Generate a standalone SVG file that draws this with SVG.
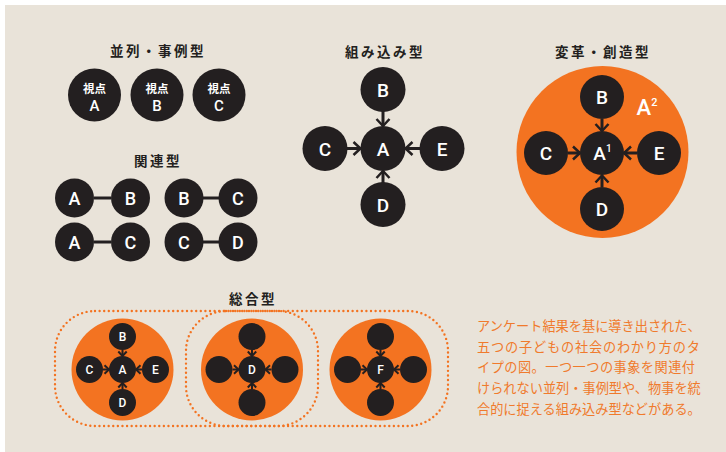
<svg xmlns="http://www.w3.org/2000/svg" width="726" height="452" viewBox="0 0 726 452">
<style>
.bg{fill:#e9e3d9}
.n{fill:#231f20}
.o{fill:#f37321}
.t{font-family:"Noto Sans CJK JP","Noto Sans",sans-serif;font-weight:bold;font-size:13.5px;fill:#231f20;letter-spacing:2.5px;text-anchor:middle}
.l{font-family:Roboto,"Liberation Sans",sans-serif;font-weight:500;fill:#fff;text-anchor:middle}
.k{font-family:"Noto Sans CJK JP",sans-serif;font-weight:bold;font-size:11.5px;fill:#fff;text-anchor:middle}
.c{stroke:#231f20;stroke-width:3;fill:none}
.cs{stroke:#231f20;stroke-width:2;fill:none}
.dot{fill:none;stroke:#f37321;stroke-width:2.4;stroke-dasharray:0 4.6;stroke-linecap:round}
.p{font-family:"Noto Sans CJK JP",sans-serif;font-size:13.2px;fill:#f07a2c}
</style>
<defs>
<marker id="ab" markerUnits="userSpaceOnUse" orient="auto" refX="0" refY="0" markerWidth="20" markerHeight="20" overflow="visible">
<path d="M-7,-6.5 L0,0 L-7,6.5" fill="none" stroke="#231f20" stroke-width="2.5"/>
</marker>
<marker id="as" markerUnits="userSpaceOnUse" orient="auto" refX="0" refY="0" markerWidth="12" markerHeight="12" overflow="visible">
<path d="M-4.5,-4.2 L0,0 L-4.5,4.2" fill="none" stroke="#231f20" stroke-width="2"/>
</marker>
</defs>
<rect class="bg" x="5" y="5" width="721" height="447"/>

<!-- Section 1 -->
<g id="s1">
<text class="t" x="158" y="56" letter-spacing="2">並列・事例型</text>
<g id="s1-a"><circle class="n" cx="94.5" cy="95" r="26.5"/><text class="k" x="94.5" y="92.5">視点</text><text class="l" x="94.5" y="110.5" font-size="15">A</text></g>
<g id="s1-b"><circle class="n" cx="157" cy="95" r="26.5"/><text class="k" x="157" y="92.5">視点</text><text class="l" x="157" y="110.5" font-size="15">B</text></g>
<g id="s1-c"><circle class="n" cx="219" cy="95" r="26.5"/><text class="k" x="219" y="92.5">視点</text><text class="l" x="219" y="110.5" font-size="15">C</text></g>
</g>

<!-- Section 2 -->
<g id="s2">
<text class="t" x="158" y="166" letter-spacing="3">関連型</text>
<g id="s2-conn">
<line class="c" x1="94" y1="198" x2="111" y2="198"/>
<line class="c" x1="203" y1="198" x2="219" y2="198"/>
<line class="c" x1="94" y1="242" x2="111" y2="242"/>
<line class="c" x1="203" y1="242" x2="219" y2="242"/>
</g>
<g id="s2-a1"><circle class="n" cx="74.5" cy="198" r="19.5"/><text class="l" x="74.5" y="204.5" font-size="18">A</text></g>
<g id="s2-b1"><circle class="n" cx="130.5" cy="198" r="19.5"/><text class="l" x="130.5" y="204.5" font-size="18">B</text></g>
<g id="s2-b2"><circle class="n" cx="184" cy="198" r="19.5"/><text class="l" x="184" y="204.5" font-size="18">B</text></g>
<g id="s2-c1"><circle class="n" cx="238" cy="198" r="19.5"/><text class="l" x="238" y="204.5" font-size="18">C</text></g>
<g id="s2-a2"><circle class="n" cx="74.5" cy="242" r="19.5"/><text class="l" x="74.5" y="248.5" font-size="18">A</text></g>
<g id="s2-c2"><circle class="n" cx="130.5" cy="242" r="19.5"/><text class="l" x="130.5" y="248.5" font-size="18">C</text></g>
<g id="s2-c3"><circle class="n" cx="184" cy="242" r="19.5"/><text class="l" x="184" y="248.5" font-size="18">C</text></g>
<g id="s2-d1"><circle class="n" cx="238" cy="242" r="19.5"/><text class="l" x="238" y="248.5" font-size="18">D</text></g>
</g>

<!-- Section 3 -->
<g id="s3">
<text class="t" x="385" y="56.5" letter-spacing="3">組み込み型</text>
<g id="s3-conn">
<line class="c" x1="383" y1="111" x2="383" y2="126" marker-end="url(#ab)"/>
<line class="c" x1="383" y1="183" x2="383" y2="171" marker-end="url(#ab)"/>
<line class="c" x1="347" y1="148.5" x2="360.5" y2="148.5" marker-end="url(#ab)"/>
<line class="c" x1="420" y1="148.5" x2="405.5" y2="148.5" marker-end="url(#ab)"/>
</g>
<g id="s3-a"><circle class="n" cx="383" cy="148.5" r="22.5"/><text class="l" x="383" y="155.5" font-size="19">A</text></g>
<g id="s3-b"><circle class="n" cx="383" cy="89.5" r="22.5"/><text class="l" x="383" y="96.5" font-size="19">B</text></g>
<g id="s3-c"><circle class="n" cx="325" cy="148.5" r="22.5"/><text class="l" x="325" y="155.5" font-size="19">C</text></g>
<g id="s3-e"><circle class="n" cx="442" cy="148.5" r="22.5"/><text class="l" x="442" y="155.5" font-size="19">E</text></g>
<g id="s3-d"><circle class="n" cx="383" cy="204.5" r="22.5"/><text class="l" x="383" y="211.5" font-size="19">D</text></g>
</g>

<!-- Section 4 -->
<g id="s4">
<text class="t" x="603" y="56.5" letter-spacing="2">変革・創造型</text>
<g id="s4-a2"><circle class="o" cx="602.5" cy="152" r="86"/><text class="l" x="647" y="115" font-size="22">A<tspan font-size="11" dy="-9">2</tspan></text></g>
<g id="s4-conn">
<line class="c" x1="602" y1="119" x2="602" y2="131" marker-end="url(#ab)"/>
<line class="c" x1="602" y1="187" x2="602" y2="175.5" marker-end="url(#ab)"/>
<line class="c" x1="568" y1="153" x2="580" y2="153" marker-end="url(#ab)"/>
<line class="c" x1="637" y1="153" x2="624" y2="153" marker-end="url(#ab)"/>
</g>
<g id="s4-a1"><circle class="n" cx="602" cy="153" r="22"/><text class="l" x="602.5" y="159.5" font-size="19">A<tspan font-size="10" dy="-8">1</tspan></text></g>
<g id="s4-b"><circle class="n" cx="602" cy="97" r="22"/><text class="l" x="602" y="103.5" font-size="19">B</text></g>
<g id="s4-c"><circle class="n" cx="546" cy="153" r="22"/><text class="l" x="546" y="159.5" font-size="19">C</text></g>
<g id="s4-e"><circle class="n" cx="659" cy="153" r="22"/><text class="l" x="659" y="159.5" font-size="19">E</text></g>
<g id="s4-d"><circle class="n" cx="602" cy="209" r="22"/><text class="l" x="602" y="215.5" font-size="19">D</text></g>
</g>

<!-- Section 5 -->
<g id="s5">
<text class="t" x="253" y="303.5" letter-spacing="3">総合型</text>
<rect class="dot" x="55" y="311" width="393" height="115" rx="40"/>
<rect class="dot" x="186" y="311" width="132" height="115" rx="40"/>
<g id="s5-g1">
<circle class="o" cx="122.5" cy="369.5" r="51"/>
<g class="conn">
<line class="cs" x1="122.5" y1="350" x2="122.5" y2="356" marker-end="url(#as)"/>
<line class="cs" x1="122.5" y1="389" x2="122.5" y2="383" marker-end="url(#as)"/>
<line class="cs" x1="103" y1="369.5" x2="109" y2="369.5" marker-end="url(#as)"/>
<line class="cs" x1="142" y1="369.5" x2="136" y2="369.5" marker-end="url(#as)"/>
</g>
<g id="s5-g1-a"><circle class="n" cx="122.5" cy="369.5" r="13.5"/><text class="l" x="122.5" y="373.8" font-size="12">A</text></g>
<g id="s5-g1-b"><circle class="n" cx="122.5" cy="336.5" r="13.5"/><text class="l" x="122.5" y="340.8" font-size="12">B</text></g>
<g id="s5-g1-d"><circle class="n" cx="122.5" cy="402.5" r="13.5"/><text class="l" x="122.5" y="406.8" font-size="12">D</text></g>
<g id="s5-g1-c"><circle class="n" cx="89.5" cy="369.5" r="13.5"/><text class="l" x="89.5" y="373.8" font-size="12">C</text></g>
<g id="s5-g1-e"><circle class="n" cx="155.5" cy="369.5" r="13.5"/><text class="l" x="155.5" y="373.8" font-size="12">E</text></g>
</g>
<g id="s5-g2">
<circle class="o" cx="252" cy="369.5" r="51"/>
<g class="conn">
<line class="cs" x1="252" y1="350" x2="252" y2="356" marker-end="url(#as)"/>
<line class="cs" x1="252" y1="389" x2="252" y2="383" marker-end="url(#as)"/>
<line class="cs" x1="232.5" y1="369.5" x2="238.5" y2="369.5" marker-end="url(#as)"/>
<line class="cs" x1="271.5" y1="369.5" x2="265.5" y2="369.5" marker-end="url(#as)"/>
</g>
<g id="s5-g2-d"><circle class="n" cx="252" cy="369.5" r="13.5"/><text class="l" x="252" y="373.8" font-size="12">D</text></g>
<circle class="n" cx="252" cy="336.5" r="13.5"/>
<circle class="n" cx="252" cy="402.5" r="13.5"/>
<circle class="n" cx="219" cy="369.5" r="13.5"/>
<circle class="n" cx="285" cy="369.5" r="13.5"/>
</g>
<g id="s5-g3">
<circle class="o" cx="380.5" cy="369.5" r="51"/>
<g class="conn">
<line class="cs" x1="380.5" y1="350" x2="380.5" y2="356" marker-end="url(#as)"/>
<line class="cs" x1="380.5" y1="389" x2="380.5" y2="383" marker-end="url(#as)"/>
<line class="cs" x1="361" y1="369.5" x2="367" y2="369.5" marker-end="url(#as)"/>
<line class="cs" x1="400" y1="369.5" x2="394" y2="369.5" marker-end="url(#as)"/>
</g>
<g id="s5-g3-f"><circle class="n" cx="380.5" cy="369.5" r="13.5"/><text class="l" x="380.5" y="373.8" font-size="12">F</text></g>
<circle class="n" cx="380.5" cy="336.5" r="13.5"/>
<circle class="n" cx="380.5" cy="402.5" r="13.5"/>
<circle class="n" cx="347.5" cy="369.5" r="13.5"/>
<circle class="n" cx="413.5" cy="369.5" r="13.5"/>
</g>
</g>

<!-- Caption -->
<g id="caption">
<text class="p" x="477" y="330.5">アンケート結果を基に導き出された、</text>
<text class="p" x="477" y="351.5" textLength="223" lengthAdjust="spacing">五つの子どもの社会のわかり方のタ</text>
<text class="p" x="477" y="372" textLength="218" lengthAdjust="spacing">イプの図。一つ一つの事象を関連付</text>
<text class="p" x="477" y="393">けられない並列・事例型や、物事を統</text>
<text class="p" x="477" y="414">合的に捉える組み込み型などがある。</text>
</g>
</svg>
